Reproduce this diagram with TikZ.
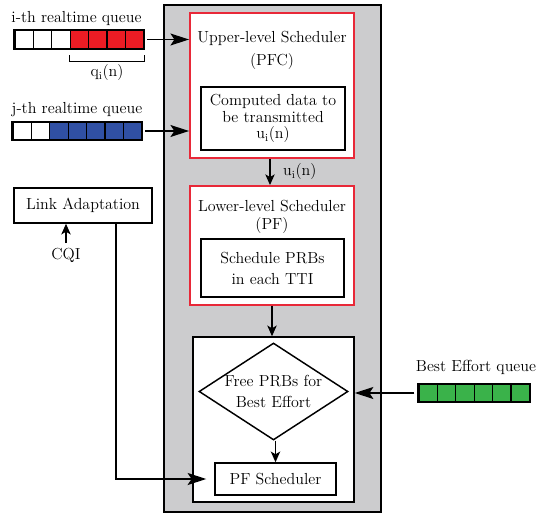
\documentclass[tikz,border=0pt]{standalone}
\usepackage{amsmath}
\usepackage{amssymb}
\usepackage{xcolor}
\usetikzlibrary{shapes.geometric,arrows.meta,positioning}
\definecolor{boxred}{RGB}{232,40,56}
\definecolor{cellred}{RGB}{236,28,36}
\definecolor{cellblue}{RGB}{48,80,164}
\definecolor{cellgreen}{RGB}{58,178,74}
\definecolor{coregray}{RGB}{204,204,206}
\tikzset{
    core-box/.style = {draw=black, fill=coregray, line width=1.1pt, rectangle, minimum width=162.75pt, minimum height=380.25pt},
    level-box/.style = {draw=boxred, fill=white, line width=1.4pt, rectangle, minimum width=123pt},
    inner-box/.style = {draw=black, fill=white, line width=1.1pt, rectangle, align=center},
    cell/.style = {draw=black, line width=0.9pt, rectangle, minimum width=13.8pt, minimum height=13.1pt, inner sep=0pt},
    big-arrow/.style = {-{Stealth[length=14pt,width=9pt,inset=3pt]}, line width=1pt},
    small-arrow/.style = {-{Stealth[length=8pt,width=7pt,inset=2pt]}, line width=1pt},
}

\begin{document}
\begin{tikzpicture}[x=0.75pt,y=-0.75pt,font=\fontsize{12}{14}\selectfont]
\useasboundingbox (0,0) rectangle (538,516);
% scheduler core
\node[core-box] (core) at (272.5,258.5) {};
\node[level-box, minimum height=108.75pt] (upper) at (272,85.5) {};
\node (upper-title) at (272,38) {Upper-level Scheduler};
\node (upper-pfc) at (272,62) {(PFC)};
\node[inner-box, minimum width=108pt, minimum height=47.25pt, font=\fontsize{12}{12.5}\selectfont] (computed) at (273,118.5) {Computed data to\\be transmitted\\$\mathrm{u_i(n)}$};
\node[level-box, minimum height=89.25pt] (lower) at (272,245.5) {};
\node (lower-title) at (272,206) {Lower-level Scheduler};
\node (lower-pf) at (272,226) {(PF)};
\node[inner-box, minimum width=107.25pt, minimum height=43.5pt, font=\fontsize{12}{15.75}\selectfont] (schedule) at (272.5,268) {Schedule PRBs\\in each TTI};
\node[inner-box, minimum width=120.75pt, minimum height=123.75pt] (be-box) at (273.5,419.5) {};
\node[diamond, draw=black, fill=white, line width=1.1pt, minimum width=111.75pt, minimum height=72.75pt, inner sep=0pt] (free) at (273.5,391.5) {};
\node[align=center, font=\fontsize{12}{15.75}\selectfont] (free-text) at (free) {Free PRBs for\\Best Effort};
\node[inner-box, minimum width=90.75pt, minimum height=24pt] (pf) at (275.5,479) {PF Scheduler};

% queues
\node (qi-label) at (76.5,19) {i-th realtime queue};
\foreach \k in {1,2,3}
    \node[cell, fill=white] (qi\k) at ({15+18.4*(\k-0.5)},39.5) {};
\foreach \k in {4,...,7}
    \node[cell, fill=cellred] (qi\k) at ({15+18.4*(\k-0.5)},39.5) {};
\draw[line width=1.4pt] (qi1.north west) rectangle (qi7.south east);
\draw[line width=1pt] ([yshift=-5pt]qi4.south west) -- ++(0,-4.5pt) -| ([yshift=-5pt]qi7.south east);
\node (qlen) at (107,73) {$\mathrm{q_i(n)}$};

\node (qj-label) at (77,110) {j-th realtime queue};
\foreach \k in {1,2}
    \node[cell, fill=white] (qj\k) at ({13+18.4*(\k-0.5)},131) {};
\foreach \k in {3,...,7}
    \node[cell, fill=cellblue] (qj\k) at ({13+18.4*(\k-0.5)},131) {};
\draw[line width=1.4pt] (qj1.north west) rectangle (qj7.south east);

\node (be-label) at (476,367) {Best Effort queue};
\foreach \k in {1,...,6}
    \node[cell, fill=cellgreen] (be\k) at ({419+18.4*(\k-0.5)},393) {};
\draw[line width=1.4pt] (be1.north west) rectangle (be6.south east);

% link adaptation
\node[inner-box, minimum width=103.5pt, minimum height=26.25pt] (link) at (83,205.5) {Link Adaptation};
\node (cqi) at (66,255) {CQI};

% connectors
\draw[big-arrow, shorten <=2pt] (qi7.east) -- (qi7.east -| upper.west);
\draw[big-arrow, shorten <=2pt] (qj7.east) -- (qj7.east -| upper.west);
\draw[small-arrow] ([xshift=-1.5pt]upper.south) -- ([xshift=-1.5pt]lower.north)
    node[midway, right=6pt] (ui) {$\mathrm{u_i(n)}$};
\draw[small-arrow] (lower.south) -- (lower.south |- be-box.north);
\draw[small-arrow] (free.south -| pf.north) -- (pf.north);
\draw[big-arrow, shorten <=3pt] (be1.west) -- (be1.west -| be-box.east);
\draw[small-arrow] (cqi.north) -- (cqi.north |- link.south);
\draw[big-arrow, shorten >=6pt] ([xshift=24.75pt]link.south) |- (pf.west);
\end{tikzpicture}
\end{document}
